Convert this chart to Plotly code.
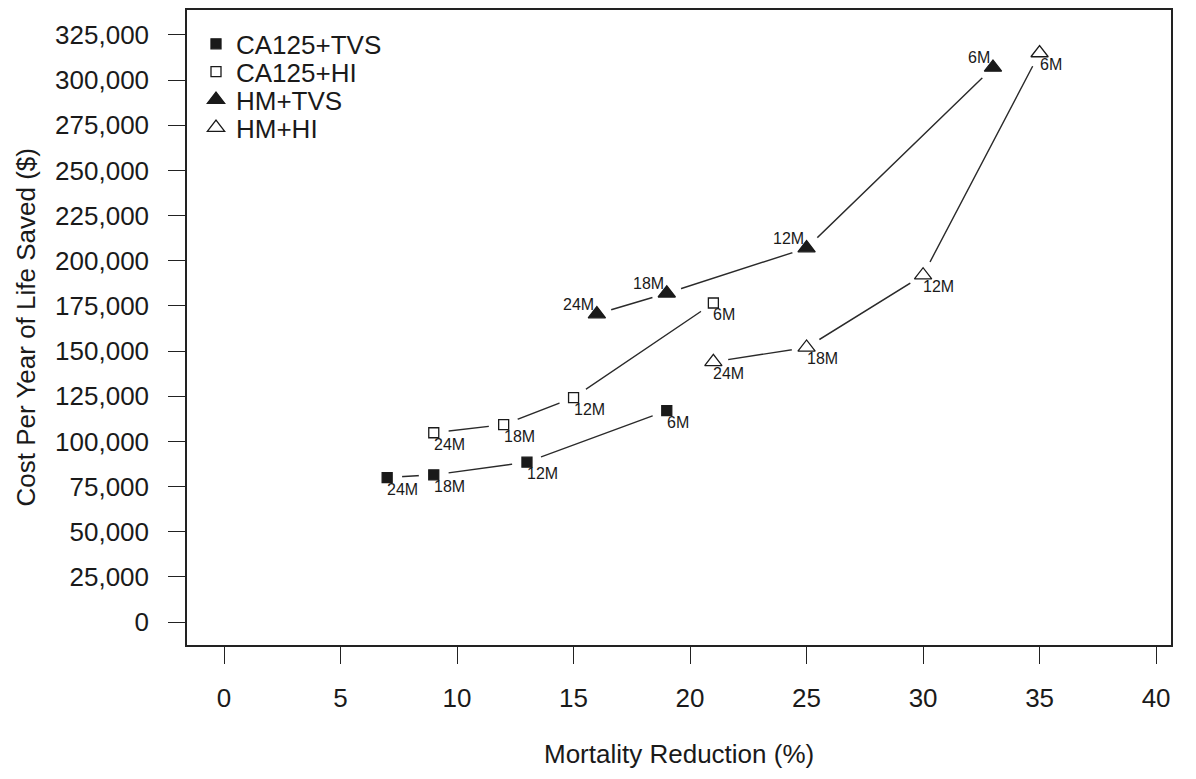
import plotly.graph_objects as go

# ---- data ----
period_labels = ["24M", "18M", "12M", "6M"]

mort_ca125_tvs = [7, 9, 13, 19]
cost_ca125_tvs = [80000, 81500, 88500, 117000]

mort_ca125_hi = [9, 12, 15, 21]
cost_ca125_hi = [104800, 109300, 124200, 176600]

mort_hm_tvs = [16, 19, 25, 33]
cost_hm_tvs = [170500, 182000, 207000, 307000]

mort_hm_hi = [21, 25, 30, 35]
cost_hm_hi = [144000, 152000, 192000, 315000]

x_ticks = [0, 5, 10, 15, 20, 25, 30, 35, 40]
y_ticks = list(range(0, 325001, 25000))

FONT = "Liberation Sans, Arial, Helvetica, sans-serif"
INK = "#1a1a1a"

series = [
    ("CA125+TVS", mort_ca125_tvs, cost_ca125_tvs, "square", 10, "below"),
    ("CA125+HI", mort_ca125_hi, cost_ca125_hi, "square-open", 10, "below"),
    ("HM+TVS", mort_hm_tvs, cost_hm_tvs, "triangle-up", 15, "left"),
    ("HM+HI", mort_hm_hi, cost_hm_hi, "triangle-up-open", 15, "below"),
]

# page has an 8px body margin; figure is sized to sit inside the window
OFF = 8
FIG_W, FIG_H = 1196 - 2 * OFF, 779 - 2 * OFF
PLOT_L, PLOT_R, PLOT_T, PLOT_B = 187, 1171, 8, 645   # window pixel coords
ML, MR, MT, MB = PLOT_L - OFF, (OFF + FIG_W) - PLOT_R, PLOT_T - OFF, (OFF + FIG_H) - PLOT_B
PH = PLOT_B - PLOT_T
PW = PLOT_R - PLOT_L

legend_ids = ["legend", "legend2", "legend3", "legend4"]
legend_rows = [42, 70, 98, 126]

fig = go.Figure()

# connecting lines
for name, xs, ys, sym, sz, lp in series:
    fig.add_trace(go.Scatter(x=xs, y=ys, mode="lines", showlegend=False,
                             hoverinfo="skip",
                             line=dict(color="#2a2a2a", width=1.4)))

# white masks to create the gaps of an R type="b" plot
all_x = [v for s in series for v in s[1]]
all_y = [v for s in series for v in s[2]]
fig.add_trace(go.Scatter(x=all_x, y=all_y, mode="markers", showlegend=False,
                         hoverinfo="skip",
                         marker=dict(symbol="circle", size=30, color="white",
                                     line=dict(width=0))))

# markers (each in its own legend box so rows can sit at R's spacing)
for (name, xs, ys, sym, sz, lp), lg in zip(series, legend_ids):
    fig.add_trace(go.Scatter(x=xs, y=ys, mode="markers", name=name, legend=lg,
                             marker=dict(symbol=sym, size=sz, color=INK,
                                         line=dict(color=INK, width=1.3))))

# point labels
annotations = []
for name, xs, ys, sym, sz, lp in series:
    for xv, yv, lab in zip(xs, ys, period_labels):
        if lp == "left":
            annotations.append(dict(x=xv, y=yv, xref="x", yref="y", text=lab,
                                    showarrow=False, xanchor="right", yanchor="bottom",
                                    xshift=-1, yshift=-1,
                                    font=dict(family=FONT, size=16, color=INK)))
        else:
            annotations.append(dict(x=xv, y=yv, xref="x", yref="y", text=lab,
                                    showarrow=False, xanchor="left", yanchor="top",
                                    xshift=-2, yshift=-1,
                                    font=dict(family=FONT, size=16, color=INK)))

# axis titles
annotations.append(dict(text="Mortality Reduction (%)", xref="paper", yref="paper",
                        x=0.5, y=-(754 - PLOT_B) / PH, xanchor="center", yanchor="middle",
                        showarrow=False, font=dict(family=FONT, size=26, color=INK)))
annotations.append(dict(text="Cost Per Year of Life Saved ($)", xref="paper", yref="paper",
                        x=(25 - PLOT_L) / PW, y=0.5, xanchor="center", yanchor="middle",
                        textangle=-90, showarrow=False,
                        font=dict(family=FONT, size=26, color=INK)))

legend_common = dict(xanchor="left", yanchor="middle", bgcolor="rgba(0,0,0,0)",
                     borderwidth=0, font=dict(family=FONT, size=26, color=INK),
                     itemwidth=30, tracegroupgap=0)
layout_legends = {}
for lg, row in zip(legend_ids, legend_rows):
    layout_legends[lg] = dict(x=(196 - PLOT_L) / PW, y=1 - (row - PLOT_T) / PH,
                              **legend_common)

fig.update_layout(
    width=FIG_W, height=FIG_H,
    margin=dict(l=ML, r=MR, t=MT, b=MB, pad=0),
    paper_bgcolor="white", plot_bgcolor="white",
    font=dict(family=FONT, size=26, color=INK),
    showlegend=True,
    annotations=annotations,
    **layout_legends,
)

fig.update_xaxes(range=[-1.59, 40.64], tickvals=x_ticks,
                 ticktext=[str(v) for v in x_ticks],
                 showgrid=False, zeroline=False,
                 showline=True, mirror=True, linecolor="#222", linewidth=1.5,
                 ticks="outside", ticklen=17, tickwidth=1.3, tickcolor="#222",
                 ticklabelstandoff=12,
                 tickfont=dict(family=FONT, size=26, color=INK))
fig.update_yaxes(range=[-12700, 338800], tickvals=y_ticks,
                 ticktext=[f"{v:,}" for v in y_ticks],
                 showgrid=False, zeroline=False,
                 showline=True, mirror=True, linecolor="#222", linewidth=1.5,
                 ticks="outside", ticklen=17, tickwidth=1.3, tickcolor="#222",
                 ticklabelstandoff=14,
                 tickfont=dict(family=FONT, size=26, color=INK))

fig.write_html("out.html")
